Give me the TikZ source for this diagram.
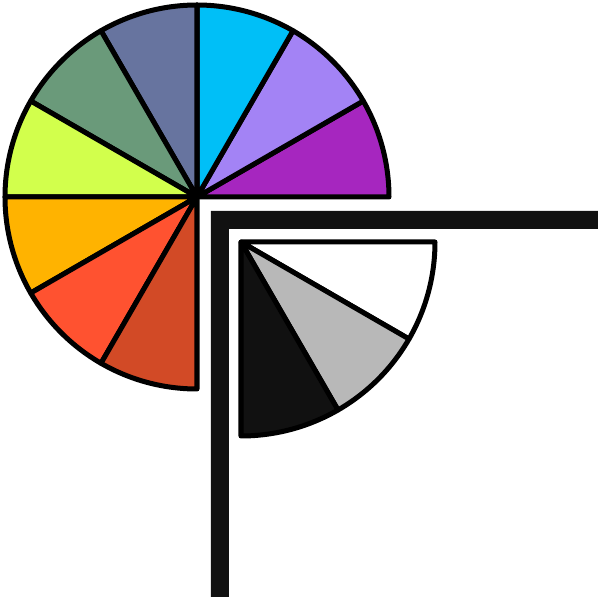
\documentclass[tikz,border=0pt]{standalone}

\definecolor{wheelA}{HTML}{A626BF}
\definecolor{wheelB}{HTML}{A383F5}
\definecolor{wheelC}{HTML}{00BFF7}
\definecolor{wheelD}{HTML}{67749F}
\definecolor{wheelE}{HTML}{6A9A7A}
\definecolor{wheelF}{HTML}{D2FF4C}
\definecolor{wheelG}{HTML}{FFB300}
\definecolor{wheelH}{HTML}{FF5230}
\definecolor{wheelI}{HTML}{D24A26}
\definecolor{greyB}{HTML}{B8B8B8}
\definecolor{inkblack}{HTML}{111111}

\begin{document}
\begin{tikzpicture}[x=0.02cm, y=0.02cm,
    wedge/.style={draw=black, line width=2.85pt, line join=round}]
    \useasboundingbox (0,0) rectangle (600,599);

    % the two wheel centres
    \coordinate (colorhub) at (197,402);
    \coordinate (greyhub) at (241,357);

    % colour wheel, nine slices of 30 degrees
    \foreach \col [count=\i from 0, evaluate=\i as \a using 30*\i] in
        {wheelA,wheelB,wheelC,wheelD,wheelE,wheelF,wheelG,wheelH,wheelI}
        \filldraw[wedge, fill=\col] (colorhub) -- ++(\a:192)
            arc[start angle=\a, end angle=\a+30, radius=192] -- cycle;

    % the L-shaped bar
    \fill[inkblack] (211,388) -- (598,388) -- (598,370) -- (229,370)
        -- (229,2) -- (211,2) -- cycle;

    % grey wheel, three slices going clockwise
    \foreach \col [count=\i from 0, evaluate=\i as \a using -30*\i] in
        {white,greyB,inkblack}
        \filldraw[wedge, fill=\col] (greyhub) -- ++(\a:194)
            arc[start angle=\a, end angle=\a-30, radius=194] -- cycle;
\end{tikzpicture}
\end{document}
